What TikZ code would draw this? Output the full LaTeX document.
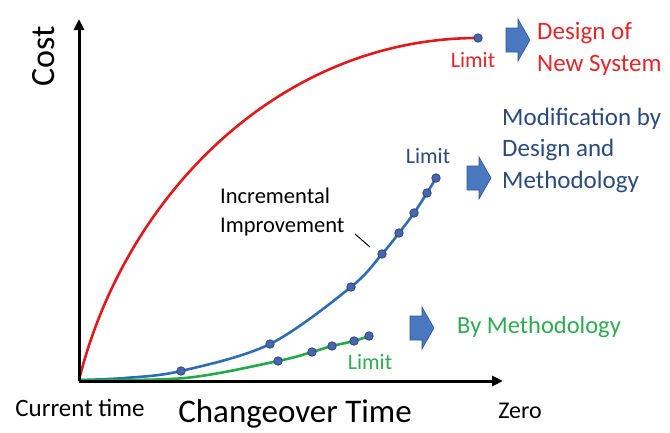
\documentclass[tikz,border=0pt]{standalone}
\usepackage{fontspec}
\setmainfont{Carlito}
\usetikzlibrary{arrows.meta}

\definecolor{curvered}{HTML}{E01A1A}
\definecolor{curveblue}{HTML}{2E6DB4}
\definecolor{curvegreen}{HTML}{22AA48}
\definecolor{txtred}{HTML}{E3262A}
\definecolor{txtblue}{HTML}{2A4A7C}
\definecolor{txtgreen}{HTML}{2EAA52}
\definecolor{dotfill}{HTML}{4A66AA}
\definecolor{dotedge}{HTML}{2C4580}
\definecolor{arrfill}{HTML}{4A78C0}
\definecolor{arredge}{HTML}{2F5597}

\tikzset{
  axis/.style={line width=3pt, -{Triangle[length=11pt,width=10pt]}},
  curve/.style={line width=2.6pt, line cap=round},
  dot/.style={circle, fill=dotfill, draw=dotedge, line width=0.8pt,
              inner sep=0pt, minimum size=8.5pt},
  lbl/.style={font=\fontsize{25}{31.5}\selectfont, align=left, anchor=west, inner sep=0pt},
  limitlbl/.style={font=\fontsize{22}{25}\selectfont, inner sep=0pt},
  blockarrow/.pic={
    \filldraw[fill=arrfill, draw=arredge, line width=0.6pt]
      (0,-12) -- (12,-12) -- (12,-21) -- (24,0) -- (12,21) -- (12,12) -- (0,12) -- cycle;
  }
}

\begin{document}
\begin{tikzpicture}[x=1pt, y=-1pt]
\useasboundingbox (0,0) rectangle (670,432);

% axes
\coordinate (origin) at (79,381);
\coordinate (ytop) at (79,19);
\coordinate (xend) at (503,381);

% red curve: design of a new system
\coordinate (r0) at (79,380);
\coordinate (r1) at (478,38);
\draw[curve, curvered] (r0) .. controls (125,195) and (280,38) .. (r1);

% blue curve: modification by design and methodology
\coordinate (b1) at (181,371);
\coordinate (b2) at (270,344);
\coordinate (b3) at (351,287);
\coordinate (b4) at (382,254);
\coordinate (b5) at (399,233);
\coordinate (b6) at (414,213);
\coordinate (b7) at (427,193);
\coordinate (b8) at (436,178);
\draw[curve, curveblue] plot[smooth, tension=0.55] coordinates
  {(79,380) (125,378) (b1) (b2) (b3) (b4) (b5) (b6) (b7) (b8)};

% green curve: by methodology
\coordinate (g1) at (278,361);
\coordinate (g2) at (312,352);
\coordinate (g3) at (332,346);
\coordinate (g4) at (354,341);
\coordinate (g5) at (369,336);
\draw[curve, curvegreen] plot[smooth, tension=0.55] coordinates
  {(79,380) (185,378) (g1) (g2) (g3) (g4) (g5)};

\draw[axis] (origin) -- (ytop);
\draw[axis] (origin) -- (xend);

% dots
\node[dot] (dr1) at (r1) {};
\foreach \p in {b1,b2,b3,b4,b5,b6,b7,b8} \node[dot] (d\p) at (\p) {};
\foreach \p in {g1,g2,g3,g4,g5} \node[dot] (d\p) at (\p) {};

% limit labels
\node[limitlbl, text=txtred] (limr) at (473,60) {Limit};
\node[limitlbl, text=txtblue] (limb) at (428,156) {Limit};
\node[limitlbl, text=txtgreen] (limg) at (370,362) {Limit};

% block arrows
\pic at (506,40) {blockarrow};
\pic at (467,178) {blockarrow};
\pic at (410,328) {blockarrow};

% outcome labels
\node[lbl, text=txtred] (newsys) at (537,49) {Design of\\New System};
\node[lbl, text=txtblue] (moddes) at (502,150) {Modification by\\Design and\\Methodology};
\node[lbl, text=txtgreen, font=\fontsize{24.5}{30}\selectfont] (bymeth) at (457,327) {By Methodology};

% incremental improvement note
\node[lbl, font=\fontsize{22.5}{28.5}\selectfont] (incr) at (220,212) {Incremental\\Improvement};
\coordinate (lead1) at (355,234);
\coordinate (lead2) at (370,247);
\draw[line width=1pt] (lead1) -- (lead2);

% axis labels
\node[font=\fontsize{34}{40}\selectfont, rotate=90, inner sep=0pt] (cost) at (44,56) {Cost};
\node[font=\fontsize{25}{29}\selectfont, inner sep=0pt] (curtime) at (80,408) {Current time};
\node[font=\fontsize{33}{38}\selectfont, inner sep=0pt] (chtime) at (295,414) {Changeover Time};
\node[font=\fontsize{24}{28}\selectfont, inner sep=0pt] (zero) at (520,411) {Zero};
\end{tikzpicture}
\end{document}
